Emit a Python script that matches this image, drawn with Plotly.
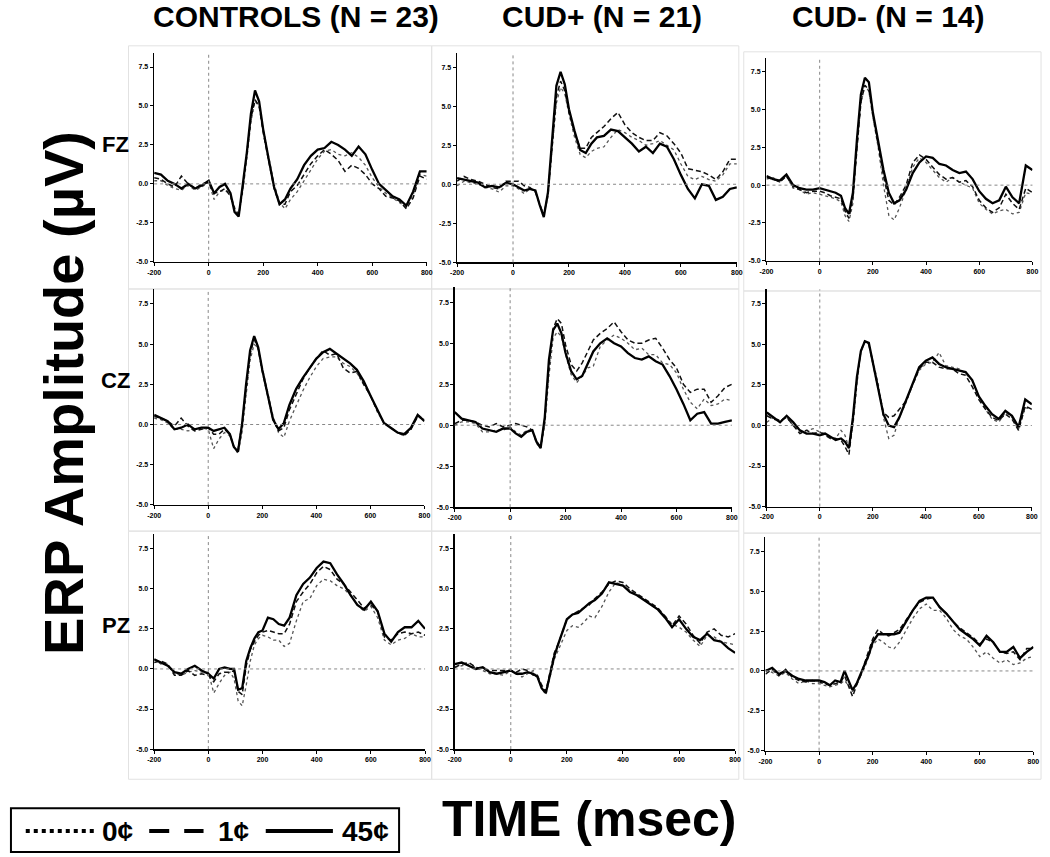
import plotly.graph_objects as go

# ---------------- data ----------------
time_ms = [-200, -175, -150, -125, -100, -75, -50, -25, 0, 20, 40, 60, 80, 95, 110, 125, 140, 155, 170, 185,
           200, 220, 240, 260, 280, 300, 325, 350, 375, 400, 425, 450, 475, 500, 525, 550, 575, 600, 625, 650,
           675, 700, 725, 750, 775, 800]

groups = ["CONTROLS (N = 23)", "CUD+ (N = 21)", "CUD- (N = 14)"]
sites = ["FZ", "CZ", "PZ"]
conditions = ["0¢", "1¢", "45¢"]
x_ticks = [-200, 0, 200, 400, 600, 800]
y_ticks = [-5.0, -2.5, 0.0, 2.5, 5.0, 7.5]

# CONTROLS, FZ
ctrl_fz_0 = [0.2, 0.2, -0.1, -0.3, -0.4, -0.1, -0.4, -0.2, 0.1, -1.0, -0.5, -0.4, -0.7, -1.5, -2.0, -0.5, 1.6, 4.0, 5.3, 5.0,
             3.5, 1.7, 0.0, -1.2, -1.6, -1.0, -0.5, 0.2, 0.9, 1.6, 2.1, 2.2, 1.9, 1.8, 2.0, 1.7, 1.2, 0.4, -0.2, -0.6,
             -0.9, -1.2, -1.5, -0.7, 0.6, 0.5]
ctrl_fz_1 = [0.4, 0.3, 0.0, -0.2, 0.5, 0.0, -0.3, 0.0, 0.1, -0.6, -0.5, -0.3, -0.8, -1.6, -2.0, -0.3, 2.0, 4.2, 5.4, 5.0,
             3.3, 1.5, -0.3, -1.3, -1.3, -0.5, -0.1, 0.6, 1.3, 1.8, 2.2, 1.9, 1.5, 0.8, 1.2, 1.0, 0.6, 0.0, -0.3, -0.8,
             -0.9, -1.1, -1.6, -0.9, 0.5, 0.3]
ctrl_fz_45 = [0.7, 0.6, 0.2, 0.0, -0.3, 0.0, -0.3, -0.1, 0.2, -0.6, -0.2, 0.0, -0.6, -1.8, -2.1, -0.2, 2.0, 4.5, 6.0, 5.3,
              3.5, 1.6, -0.2, -1.3, -1.0, -0.3, 0.3, 1.2, 1.8, 2.2, 2.3, 2.7, 2.5, 2.2, 1.8, 2.4, 1.9, 0.9, 0.0, -0.4,
              -0.8, -1.0, -1.4, -0.5, 0.8, 0.8]

# CUD+, FZ
cudp_fz_0 = [-0.1, 0.2, 0.1, 0.0, -0.2, -0.3, -0.5, -0.1, -0.1, -0.3, -0.6, -0.3, -0.4, -1.3, -2.0, -0.8, 2.3, 5.2, 6.2, 5.8,
             4.5, 3.0, 1.9, 1.7, 2.1, 2.3, 2.4, 3.0, 3.5, 3.3, 3.0, 2.8, 2.5, 2.6, 2.8, 2.5, 2.2, 1.3, 0.5, 0.3,
             0.5, 0.3, 0.2, 0.6, 1.3, 1.3]
cudp_fz_1 = [0.2, 0.5, 0.3, 0.2, 0.0, -0.2, -0.3, 0.2, 0.2, 0.2, -0.1, -0.2, -0.5, -1.2, -2.0, -0.6, 2.6, 5.6, 6.6, 6.0,
             4.6, 3.3, 2.3, 2.3, 3.0, 3.3, 3.7, 4.2, 4.6, 3.8, 3.3, 3.0, 2.8, 2.8, 3.3, 3.1, 2.6, 2.0, 1.0, 0.9,
             0.8, 0.6, 0.3, 0.8, 1.6, 1.6]
cudp_fz_45 = [0.4, 0.3, 0.2, 0.1, -0.2, -0.1, -0.2, 0.1, 0.0, -0.2, -0.4, -0.3, -0.4, -1.3, -2.1, -0.5, 3.0, 6.3, 7.2, 6.4,
              4.8, 3.4, 2.2, 2.0, 2.6, 3.0, 3.1, 3.5, 3.4, 3.0, 2.6, 2.1, 2.4, 2.0, 2.6, 2.4, 1.6, 0.6, -0.3, -0.9,
              0.0, -0.1, -1.0, -0.8, -0.3, -0.2]

# CUD-, FZ
cudm_fz_0 = [0.4, 0.5, 0.2, 0.6, -0.2, -0.3, -0.6, -0.5, -0.6, -0.7, -0.8, -0.9, -1.1, -2.0, -2.4, -1.2, 2.4, 5.4, 6.6, 6.2,
             4.5, 2.5, 0.0, -2.0, -2.3, -1.5, -0.3, 1.2, 1.8, 1.5, 1.0, 0.5, 0.2, 0.5, 0.2, 0.0, -0.2, -1.2, -1.6, -1.9,
             -1.7, -1.6, -1.9, -1.8, -0.5, -0.6]
cudm_fz_1 = [0.5, 0.4, 0.2, 0.6, -0.1, -0.3, -0.5, -0.4, -0.4, -0.5, -0.7, -0.8, -0.9, -1.7, -2.2, -0.8, 2.6, 5.5, 6.6, 6.3,
             4.7, 2.7, 0.6, -1.0, -1.3, -0.8, 0.0, 1.5, 2.0, 1.7, 1.2, 0.7, 0.4, 0.5, 0.2, 0.3, -0.1, -1.0, -1.5, -1.8,
             -1.5, -0.6, -1.2, -1.6, -0.2, -0.5]
cudm_fz_45 = [0.6, 0.4, 0.3, 0.7, 0.0, -0.2, -0.3, -0.3, -0.2, -0.3, -0.4, -0.5, -0.7, -1.5, -1.9, -0.5, 3.0, 6.0, 7.1, 6.8,
              4.8, 2.8, 1.0, -0.5, -1.2, -1.0, -0.3, 0.8, 1.5, 1.9, 1.8, 1.4, 1.3, 1.0, 0.8, 0.9, 0.4, -0.4, -0.9, -1.2,
              -1.0, -0.1, -0.8, -1.2, 1.3, 1.0]

# CONTROLS, CZ
ctrl_cz_0 = [0.4, 0.3, 0.1, -0.3, -0.3, -0.4, -0.3, -0.2, -0.3, -1.5, -0.9, -0.5, -0.7, -1.4, -1.8, -0.5, 1.8, 4.0, 5.0, 4.7,
             3.5, 1.9, 0.5, -0.5, -0.8, 0.2, 1.2, 2.1, 2.9, 3.6, 4.1, 4.2, 4.2, 3.8, 3.6, 3.2, 2.5, 1.8, 0.8, 0.1,
             -0.2, -0.5, -0.7, -0.3, 0.6, 0.3]
ctrl_cz_1 = [0.5, 0.4, 0.2, -0.1, 0.4, -0.1, -0.4, -0.3, -0.2, -0.6, -0.6, -0.3, -0.6, -1.4, -1.6, 0.0, 2.4, 4.4, 5.3, 4.7,
             3.3, 1.7, 0.3, -0.4, -0.2, 0.9, 1.9, 2.8, 3.5, 4.1, 4.6, 4.3, 4.4, 3.5, 3.2, 3.3, 2.5, 1.8, 0.9, 0.1,
             -0.2, -0.5, -0.7, -0.3, 0.5, 0.3]
ctrl_cz_45 = [0.6, 0.4, 0.2, -0.3, -0.2, 0.0, -0.3, -0.2, -0.2, -0.4, -0.3, -0.2, -0.6, -1.4, -1.7, 0.0, 2.5, 4.6, 5.5, 4.8,
              3.4, 1.8, 0.3, -0.3, 0.1, 1.2, 2.2, 2.9, 3.5, 4.1, 4.5, 4.7, 4.4, 4.1, 3.8, 3.4, 2.7, 1.8, 0.9, 0.1,
              -0.2, -0.5, -0.6, -0.2, 0.6, 0.2]

# CUD+, CZ
cudp_cz_0 = [0.0, 0.2, 0.2, 0.1, -0.4, -0.4, -0.3, -0.3, -0.1, -0.4, -0.6, -0.3, -0.3, -1.1, -1.4, 0.0, 3.0, 5.3, 5.7, 5.4,
             4.3, 3.1, 2.6, 3.0, 3.5, 3.6, 4.8, 5.2, 5.5, 5.3, 5.0, 4.6, 4.7, 4.3, 4.3, 3.8, 3.7, 3.2, 2.2, 1.4,
             1.0, 1.6, 1.2, 1.3, 1.6, 1.5]
cudp_cz_1 = [0.1, 0.3, 0.3, 0.2, 0.0, -0.1, 0.1, -0.1, 0.0, 0.1, 0.0, -0.1, -0.3, -1.0, -1.3, 0.3, 3.5, 5.9, 6.5, 6.2,
             4.9, 3.7, 3.3, 3.8, 4.5, 5.2, 5.6, 5.9, 6.3, 5.7, 5.2, 5.0, 5.0, 5.2, 5.3, 4.7, 4.0, 3.5, 2.5, 2.0,
             2.2, 2.2, 1.4, 1.8, 2.3, 2.5]
cudp_cz_45 = [0.8, 0.4, 0.3, 0.2, -0.2, -0.3, -0.4, -0.2, -0.2, -0.5, -0.7, -0.4, -0.3, -1.0, -1.4, 0.5, 4.0, 5.8, 6.2, 5.6,
              4.4, 3.3, 2.8, 3.0, 3.7, 4.5, 5.0, 5.3, 5.0, 4.8, 4.4, 4.1, 4.0, 4.2, 3.9, 3.7, 3.0, 2.2, 1.3, 0.3,
              0.7, 0.8, 0.1, 0.1, 0.2, 0.3]

# CUD-, CZ
cudm_cz_0 = [0.2, 0.5, 0.3, 0.5, 0.0, -0.4, -0.3, -0.2, -0.4, -0.5, -0.7, -0.8, -0.3, -0.6, -1.4, 0.0, 2.5, 4.6, 5.2, 5.0,
             4.0, 2.6, 0.5, -0.8, -0.6, 0.5, 1.4, 2.5, 3.4, 3.8, 3.9, 4.5, 3.7, 3.6, 3.5, 3.2, 2.8, 1.8, 1.0, 0.4,
             0.2, 0.8, 0.5, -0.2, 1.1, 1.0]
cudm_cz_1 = [0.6, 0.4, 0.3, 0.5, 0.0, -0.5, -0.3, -0.5, -0.4, -0.6, -0.8, -0.8, -0.9, -1.3, -1.8, 0.3, 2.8, 4.6, 5.2, 5.0,
             3.8, 2.2, 0.8, 0.5, 0.6, 1.0, 1.5, 2.5, 3.5, 3.9, 3.9, 3.6, 3.5, 3.5, 3.2, 3.1, 2.4, 1.6, 1.0, 0.5,
             0.3, 0.7, 0.4, -0.3, 1.2, 1.0]
cudm_cz_45 = [0.8, 0.5, 0.2, 0.6, 0.2, -0.3, -0.5, -0.5, -0.6, -0.5, -0.7, -0.9, -0.8, -1.0, -1.4, 0.5, 3.0, 4.6, 5.2, 5.1,
              3.9, 2.2, 0.7, 0.0, -0.1, 0.5, 1.5, 2.6, 3.6, 4.0, 4.2, 3.8, 3.6, 3.5, 3.4, 3.3, 2.8, 1.8, 1.2, 0.7,
              0.4, 0.9, 0.6, -0.1, 1.6, 1.3]

# CONTROLS, PZ
ctrl_pz_0 = [0.6, 0.3, 0.3, -0.3, -0.4, -0.2, -0.1, -0.2, -0.2, -1.5, -0.9, -0.4, -0.2, -0.6, -2.0, -2.3, -1.0, 0.5, 1.5, 1.9,
             2.1, 2.0, 1.8, 1.8, 1.4, 1.6, 3.0, 4.2, 4.4, 5.2, 5.6, 5.5, 5.2, 5.0, 4.6, 4.0, 3.6, 3.9, 3.2, 1.8,
             1.5, 1.8, 1.9, 2.2, 2.0, 2.0]
ctrl_pz_1 = [0.4, 0.5, 0.3, -0.4, -0.4, -0.1, -0.4, -0.3, -0.4, -0.8, -0.3, -0.2, -0.2, -0.1, -1.4, -1.6, 0.2, 1.2, 1.7, 2.1,
             2.3, 2.4, 2.3, 2.2, 2.2, 2.8, 4.2, 4.8, 5.3, 6.0, 6.4, 6.2, 5.6, 5.3, 4.8, 4.3, 3.8, 4.0, 3.6, 2.0,
             1.8, 2.2, 2.3, 2.2, 2.3, 2.1]
ctrl_pz_45 = [0.6, 0.4, 0.2, -0.2, -0.3, 0.0, 0.2, -0.1, -0.3, -0.6, 0.0, 0.1, 0.0, 0.0, -1.3, -1.2, 0.5, 1.3, 1.9, 2.3,
              2.4, 3.2, 3.1, 2.8, 2.7, 3.2, 4.6, 5.3, 5.7, 6.3, 6.7, 6.6, 5.9, 5.3, 4.6, 4.0, 3.7, 4.2, 3.6, 2.2,
              1.7, 2.3, 2.6, 2.6, 3.0, 2.5]

# CUD+, PZ
cudp_pz_0 = [0.1, 0.2, 0.3, 0.1, -0.1, -0.3, -0.3, -0.4, -0.1, -0.3, -0.5, -0.3, -0.1, -0.5, -1.2, -1.6, -0.4, 0.6, 1.2, 1.8,
             2.4, 2.7, 2.6, 2.9, 3.3, 3.2, 3.9, 4.8, 5.4, 5.2, 4.9, 4.6, 4.3, 4.0, 3.7, 3.3, 2.8, 2.6, 2.3, 1.8,
             1.4, 2.1, 2.0, 1.7, 1.6, 1.5]
cudp_pz_1 = [0.1, 0.3, 0.4, 0.1, 0.0, -0.1, -0.1, -0.1, -0.1, -0.2, 0.0, -0.1, -0.4, -0.4, -1.0, -1.4, -0.3, 1.0, 1.6, 2.3,
             3.1, 3.4, 3.6, 3.8, 4.0, 4.4, 4.8, 5.3, 5.5, 5.4, 5.0, 4.7, 4.4, 4.1, 3.8, 3.3, 2.7, 3.3, 2.8, 2.1,
             1.6, 2.3, 2.5, 2.1, 2.0, 2.2]
cudp_pz_45 = [0.3, 0.4, 0.2, 0.0, 0.1, -0.2, -0.3, -0.2, -0.1, -0.3, -0.3, -0.2, -0.3, -0.5, -1.2, -1.5, -0.3, 0.8, 1.6, 2.3,
              3.1, 3.4, 3.5, 3.8, 4.1, 4.3, 4.7, 5.4, 5.3, 5.2, 4.8, 4.6, 4.3, 4.0, 3.7, 3.2, 2.6, 3.1, 2.5, 2.0,
              1.8, 2.2, 1.8, 1.7, 1.3, 1.0]

# CUD-, PZ
cudm_pz_0 = [0.1, -0.1, -0.3, -0.1, -0.5, -0.8, -0.6, -0.8, -0.8, -0.9, -1.0, -0.9, -0.8, -0.6, -0.9, -1.3, -0.8, -0.3, 0.2, 0.9,
             1.6, 2.0, 1.8, 1.5, 1.4, 1.8, 2.6, 3.3, 3.9, 4.2, 3.8, 3.8, 3.3, 2.6, 2.2, 2.0, 1.5, 0.9, 1.2, 0.8,
             0.5, 0.7, 0.4, 0.5, 0.8, 0.9]
cudm_pz_1 = [-0.2, 0.1, -0.3, 0.1, -0.4, -0.6, -0.7, -0.6, -0.7, -0.8, -0.9, -0.8, -0.7, -0.3, -1.0, -1.6, -0.9, -0.3, 0.5, 1.2,
             2.0, 2.6, 2.3, 2.2, 2.4, 2.6, 3.2, 3.8, 4.3, 4.5, 4.6, 4.0, 3.6, 3.1, 2.7, 2.4, 2.1, 1.7, 2.0, 1.8,
             1.2, 1.1, 1.2, 0.7, 1.4, 1.4]
cudm_pz_45 = [0.0, 0.2, -0.2, 0.0, -0.3, -0.5, -0.6, -0.6, -0.6, -0.7, -0.9, -0.6, -0.7, 0.0, -0.6, -1.2, -0.8, -0.2, 0.3, 1.0,
              1.8, 2.3, 2.3, 2.3, 2.3, 2.4, 3.1, 3.8, 4.4, 4.6, 4.6, 4.0, 3.6, 3.1, 2.6, 2.3, 2.0, 1.6, 2.2, 1.8,
              1.2, 1.2, 1.5, 0.8, 1.2, 1.5]

panel_data = [
    [[ctrl_fz_0, ctrl_fz_1, ctrl_fz_45], [cudp_fz_0, cudp_fz_1, cudp_fz_45], [cudm_fz_0, cudm_fz_1, cudm_fz_45]],
    [[ctrl_cz_0, ctrl_cz_1, ctrl_cz_45], [cudp_cz_0, cudp_cz_1, cudp_cz_45], [cudm_cz_0, cudm_cz_1, cudm_cz_45]],
    [[ctrl_pz_0, ctrl_pz_1, ctrl_pz_45], [cudp_pz_0, cudp_pz_1, cudp_pz_45], [cudm_pz_0, cudm_pz_1, cudm_pz_45]],
]

# ---------------- layout geometry (pixels) ----------------
W, H = 1050, 857
# per panel: (x_left, x_right, y_bottom, y_top)
panel_px = [
    [(149, 425, 262.7, 53.2), (455.7, 739, 263.3, 53.2), (769, 1038.3, 261.7, 58.3)],
    [(149, 422.7, 506.7, 290.4), (453.3, 734, 509, 288.5), (769.3, 1037.7, 508.3, 290.4)],
    [(149, 423.3, 751.7, 536.2), (453.3, 737.3, 751.7, 536.2), (768, 1039.3, 753.3, 538.9)],
]
panel_box_px = [
    [(123, 430, 46, 290), (430, 741, 46, 290), (746, 1047, 52, 292)],
    [(123, 430, 290, 533), (430, 741, 290, 533), (746, 1047, 292, 535)],
    [(123, 430, 533, 782), (430, 741, 533, 782), (746, 1047, 535, 782)],
]

styles = [
    dict(color="#555555", width=1.3, dash="dot"),
    dict(color="#111111", width=1.5, dash="5px,3px"),
    dict(color="#000000", width=2.3, dash="solid"),
]

FONT = "Liberation Sans, Arial, sans-serif"

fig = go.Figure()
layout = dict(
    width=W, height=H,
    margin=dict(l=0, r=0, t=0, b=0),
    paper_bgcolor="white", plot_bgcolor="white",
    showlegend=False, hovermode=False,
    font=dict(family=FONT, color="#000"),
)
shapes = []
annotations = []

k = 0
for r in range(3):
    for c in range(3):
        k += 1
        xs = "" if k == 1 else str(k)
        xl, xr, yb, yt = panel_px[r][c]
        layout["xaxis" + xs] = dict(
            domain=[xl / W, xr / W], anchor="y" + xs, range=[-200, 800],
            tickvals=x_ticks, ticktext=[str(v) for v in x_ticks],
            showgrid=False, zeroline=False, showline=True, linecolor="#000", linewidth=1.5,
            ticks="outside", ticklen=3, tickwidth=1, tickcolor="#000",
            tickfont=dict(size=7, color="#000", family=FONT, weight="bold"),
        )
        layout["yaxis" + xs] = dict(
            domain=[1 - yb / H, 1 - yt / H], anchor="x" + xs, range=[-5, 8.4],
            tickvals=y_ticks, ticktext=["%.1f" % v for v in y_ticks],
            showgrid=False, zeroline=False, showline=True, linecolor="#000", linewidth=1.5,
            ticks="outside", ticklen=3, tickwidth=1, tickcolor="#000",
            tickfont=dict(size=7, color="#000", family=FONT, weight="bold"),
        )
        # panel frame
        bx0, bx1, by0, by1 = panel_box_px[r][c]
        shapes.append(dict(type="rect", xref="paper", yref="paper",
                           x0=bx0 / W, x1=bx1 / W, y0=1 - by1 / H, y1=1 - by0 / H,
                           line=dict(color="#e2e2e2", width=1), layer="below"))
        # zero reference lines
        shapes.append(dict(type="line", xref="x" + xs, yref="y" + xs + " domain",
                           x0=0, x1=0, y0=0, y1=1, line=dict(color="#888", width=1, dash="dot")))
        shapes.append(dict(type="line", xref="x" + xs + " domain", yref="y" + xs,
                           x0=0, x1=1, y0=0, y1=0, line=dict(color="#888", width=1, dash="dot")))
        for i, cond in enumerate(conditions):
            vals = panel_data[r][c][i]
            assert len(vals) == len(time_ms), (r, c, i, len(vals))
            fig.add_trace(go.Scatter(x=time_ms, y=vals, mode="lines", name=cond,
                                     line=styles[i], xaxis="x" + xs, yaxis="y" + xs,
                                     hoverinfo="skip"))

# column titles
for txt, cx in zip(groups, [293, 602, 893]):
    annotations.append(dict(text="<b>" + txt + "</b>", x=cx / W, y=1 - 17 / H, xref="paper", yref="paper",
                            showarrow=False, xanchor="center", yanchor="middle",
                            font=dict(size=30, family=FONT, color="#000")))
# site labels
for txt, cy in zip(sites, [145, 382, 628]):
    annotations.append(dict(text="<b>" + txt + "</b>", x=110 / W, y=1 - cy / H, xref="paper", yref="paper",
                            showarrow=False, xanchor="center", yanchor="middle",
                            font=dict(size=22, family=FONT, color="#000")))
# y title
annotations.append(dict(text="<b>ERP Amplitude (µV)</b>", x=57 / W, y=1 - 394 / H, xref="paper", yref="paper",
                        showarrow=False, textangle=-90, xanchor="center", yanchor="middle",
                        font=dict(size=56, family=FONT, color="#000")))
# x title
annotations.append(dict(text="<b>TIME (msec)</b>", x=590 / W, y=1 - 822 / H, xref="paper", yref="paper",
                        showarrow=False, xanchor="center", yanchor="middle",
                        font=dict(size=50, family=FONT, color="#000")))

# legend box
shapes.append(dict(type="rect", xref="paper", yref="paper", x0=4 / W, x1=397 / W,
                   y0=1 - 855 / H, y1=1 - 811 / H, line=dict(color="#000", width=2), fillcolor="white"))
ly = 1 - 834 / H
shapes.append(dict(type="line", xref="paper", yref="paper", x0=19 / W, x1=88 / W, y0=ly, y1=ly,
                   line=dict(color="#000", width=4, dash="4px,4px")))
shapes.append(dict(type="line", xref="paper", yref="paper", x0=144 / W, x1=199 / W, y0=ly, y1=ly,
                   line=dict(color="#000", width=4, dash="20px,15px")))
shapes.append(dict(type="line", xref="paper", yref="paper", x0=262 / W, x1=330 / W, y0=ly, y1=ly,
                   line=dict(color="#000", width=4)))
for txt, lx in zip(conditions, [94, 212, 337]):
    annotations.append(dict(text="<b>" + txt + "</b>", x=lx / W, y=ly, xref="paper", yref="paper",
                            showarrow=False, xanchor="left", yanchor="middle",
                            font=dict(size=28, family=FONT, color="#000")))

layout["shapes"] = shapes
layout["annotations"] = annotations
fig.update_layout(**layout)
fig.write_html("out.html",
               config={"displayModeBar": False, "staticPlot": True},
               post_script="document.body.style.margin='0px';document.body.style.overflow='hidden';")
